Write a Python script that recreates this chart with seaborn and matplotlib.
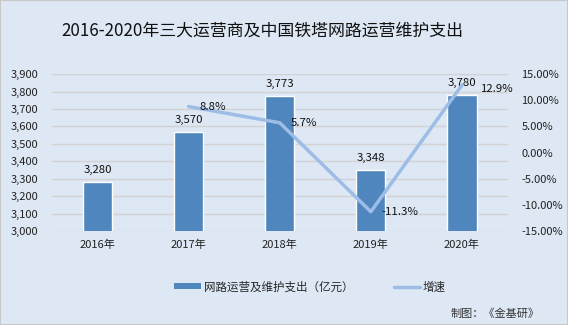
import numpy as np
import pandas as pd
import matplotlib
matplotlib.use("Agg")
import matplotlib.pyplot as plt
from matplotlib.patches import Patch, Rectangle
from matplotlib.lines import Line2D
import matplotlib.ticker as mticker
import seaborn as sns

years = ["2016年", "2017年", "2018年", "2019年", "2020年"]
expense = [3280, 3570, 3773, 3348, 3780]
growth = [np.nan, 8.8, 5.7, -11.3, 12.9]
growth_labels = ["", "8.8%", "5.7%", "-11.3%", "12.9%"]
title = "2016-2020年三大运营商及中国铁塔网路运营维护支出"
bar_name = "网路运营及维护支出（亿元）"
line_name = "增速"
credit = "制图：《金基研》"

sns.set_theme(style="white")
plt.rcParams['font.family'] = ['Noto Sans CJK SC', 'DejaVu Sans']

bg = "#dde8f4"
bar_color = "#4f86bd"
line_color = "#9dbde6"

fig = plt.figure(figsize=(5.68, 3.25), dpi=100, facecolor=bg)
fig.patches.append(Rectangle((0, 0), 1, 1, transform=fig.transFigure, fill=False,
                             edgecolor="#c8c8c8", linewidth=1.5))
ax = fig.add_axes([0.0915, 0.289, 0.802, 0.483])
ax.set_facecolor(bg)

df = pd.DataFrame({"year": years, "expense": expense})
sns.barplot(data=df, x="year", y="expense", color=bar_color, width=0.32,
            saturation=1, ax=ax, zorder=2)
ax.set_ylim(3000, 3900)
ax.set_yticks(np.arange(3000, 3901, 100))
ax.yaxis.set_major_formatter(mticker.FuncFormatter(lambda v, p: f"{int(v):,}"))
ax.set_xlim(-0.5, len(years) - 0.5)
ax.grid(axis="y", color="#d2d2d2", linewidth=1, zorder=0)
ax.set_axisbelow(True)
ax.set_xlabel("")
ax.set_ylabel("")
for s in ax.spines.values():
    s.set_visible(False)
ax.tick_params(axis="both", length=0, labelsize=8, colors="#222222")
ax.tick_params(axis="y", pad=10)
ax.tick_params(axis="x", pad=6)
for i, v in enumerate(expense):
    ax.annotate(f"{v:,}", (i, v), xytext=(0, 5), textcoords="offset points",
                ha="center", va="bottom", fontsize=8.2, color="#111111")

ax2 = ax.twinx()
sns.lineplot(x=np.arange(len(years)), y=growth, ax=ax2, color=line_color,
             linewidth=2.5, zorder=3)
ax2.set_ylim(-15, 15)
ax2.set_yticks(np.arange(-15, 16, 5))
ax2.yaxis.set_major_formatter(mticker.FuncFormatter(lambda v, p: f"{v:.2f}%"))
for s in ax2.spines.values():
    s.set_visible(False)
ax2.tick_params(axis="y", length=0, labelsize=8, colors="#222222", pad=10)
for i, (g, lab) in enumerate(zip(growth, growth_labels)):
    if lab:
        dy = -3 if i == len(years) - 1 else 0
        dx = 14 if i == len(years) - 1 else 8
        ax2.annotate(lab, (i, g), xytext=(dx, dy), textcoords="offset points",
                     ha="left", va="center", fontsize=8.2, color="#111111")

fig.text(0.461, 0.905, title, ha="center", va="center", fontsize=12.2, color="#111111")

handles = [Patch(facecolor=bar_color, edgecolor="none"),
           Line2D([0], [0], color=line_color, linewidth=2.5)]
leg = fig.legend(handles, [bar_name, line_name], loc="center left", ncol=2,
                 bbox_to_anchor=(0.307, 0.117), frameon=False, fontsize=8.3,
                 handlelength=2.3, handleheight=0.45, columnspacing=3.5,
                 handletextpad=0.25, borderaxespad=0, borderpad=0)
fig.text(0.95, 0.035, credit, ha="right", va="center", fontsize=8, color="#333333")

fig.savefig("out.png", dpi=100, facecolor=bg)
